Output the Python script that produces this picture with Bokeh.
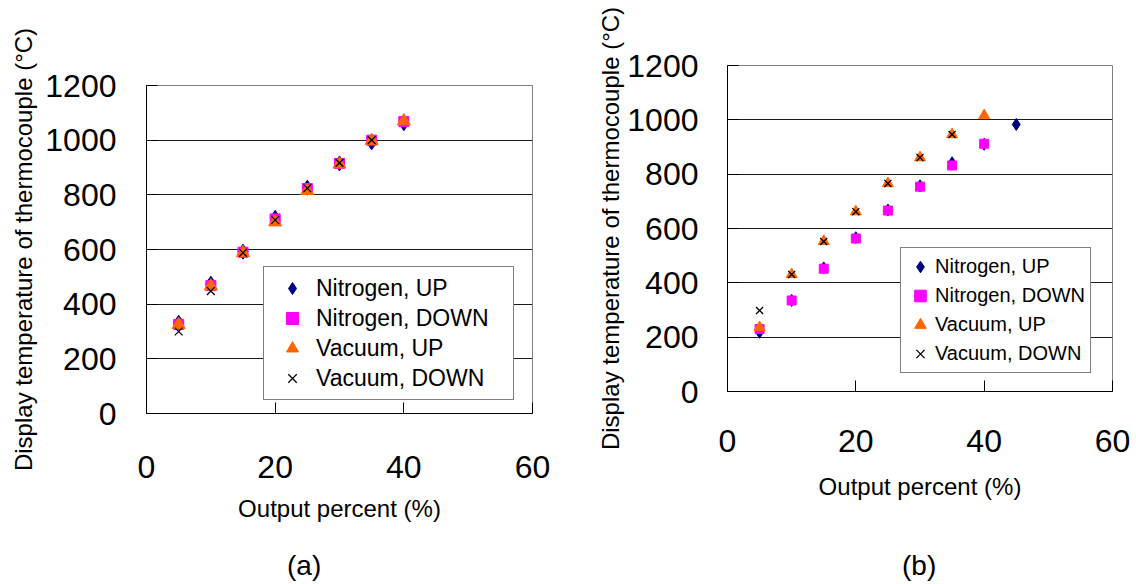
from bokeh.plotting import figure
from bokeh.models import Range1d, FixedTicker, Legend, LegendItem, Div, Spacer
from bokeh.layouts import row, column
from bokeh.embed import file_html
from bokeh.resources import INLINE

FONT = "Liberation Sans"

x_ticks = [0, 20, 40, 60]
y_ticks = [0, 200, 400, 600, 800, 1000, 1200]
grid_ticks = [200, 400, 600, 800, 1000]
series_names = ["Nitrogen, UP", "Nitrogen, DOWN", "Vacuum, UP", "Vacuum, DOWN"]
y_title = "Display temperature of thermocouple (°C)"
x_title = "Output percent (%)"
captions = ["(a)", "(b)"]

# ---- panel (a) ----
a_x_n_up = [5, 10, 15, 20, 25, 30, 35, 40]
a_n_up = [332, 475, 592, 716, 826, 915, 992, 1062]
a_x_n_down = [5, 10, 15, 20, 25, 30, 35, 40]
a_n_down = [326, 468, 590, 712, 823, 915, 1000, 1068]
a_x_v_up = [5, 10, 15, 20, 25, 30, 35, 40]
a_v_up = [325, 466, 588, 700, 815, 912, 998, 1070]
a_x_v_down = [5, 10, 15, 20, 25, 30, 35]
a_v_down = [300, 448, 588, 708, 824, 917, 1000]

# ---- panel (b) ----
b_x_n_up = [5, 10, 15, 20, 25, 30, 35, 40, 45]
b_n_up = [218, 335, 455, 566, 668, 757, 842, 910, 983]
b_x_n_down = [5, 10, 15, 20, 25, 30, 35, 40]
b_n_down = [230, 335, 452, 563, 666, 754, 832, 912]
b_x_v_up = [5, 10, 15, 20, 25, 30, 35, 40]
b_v_up = [236, 431, 553, 662, 766, 861, 946, 1016]
b_x_v_down = [5, 10, 15, 20, 25, 30, 35]
b_v_down = [298, 431, 552, 662, 766, 861, 946]


def make_panel(data, width, height, borders, sizes, tick_std, title_std, legend_cfg):
    p = figure(width=width, height=height, output_backend="svg", toolbar_location=None,
               x_range=Range1d(0, 60), y_range=Range1d(0, 1200),
               min_border_left=borders[0], min_border_right=borders[1],
               min_border_top=borders[2], min_border_bottom=borders[3])
    try:
        p.frame_align = False
    except Exception:
        pass
    p.background_fill_color = "white"
    p.border_fill_color = "white"
    p.outline_line_color = "#808080"
    p.outline_line_width = 1

    p.xgrid.visible = False
    p.ygrid.ticker = FixedTicker(ticks=grid_ticks)
    p.ygrid.grid_line_color = "#1a1a1a"
    p.ygrid.grid_line_width = 1

    p.xaxis.ticker = FixedTicker(ticks=x_ticks)
    p.yaxis.ticker = FixedTicker(ticks=y_ticks)
    for ax in (p.xaxis, p.yaxis):
        ax.axis_line_color = "black"
        ax.axis_line_width = 1
        ax.major_tick_line_color = "black"
        ax.major_tick_in = 11
        ax.major_tick_out = 0
        ax.minor_tick_line_color = None
        ax.major_label_text_font = FONT
        ax.major_label_text_font_size = "32px"
        ax.major_label_text_color = "black"
        ax.axis_label_text_font = FONT
        ax.axis_label_text_font_size = "24px"
        ax.axis_label_text_font_style = "normal"
        ax.axis_label_text_color = "black"
    p.xaxis.major_label_standoff = tick_std[0]
    p.yaxis.major_label_standoff = tick_std[1]
    p.xaxis.axis_label = x_title
    p.yaxis.axis_label = y_title
    p.xaxis.axis_label_standoff = title_std[0]
    p.yaxis.axis_label_standoff = title_std[1]

    (xn_up, n_up, xn_dn, n_dn, xv_up, v_up, xv_dn, v_dn) = data
    r1 = p.scatter(xn_up, n_up, marker="diamond", size=sizes[0],
                   fill_color="#000080", line_color="#000080")
    r2 = p.scatter(xn_dn, n_dn, marker="square", size=sizes[1], fill_color="#FF00FF",
                   line_color="#FF00FF")
    r3 = p.scatter(xv_up, v_up, marker="triangle", size=sizes[2], fill_color="#FF6600",
                   line_color="#FF6600")
    r4 = p.scatter(xv_dn, v_dn, marker="x", size=sizes[3], line_color="black", line_width=1.3)

    items = [LegendItem(label=n, renderers=[r]) for n, r in zip(series_names, [r1, r2, r3, r4])]
    legend = Legend(items=items, location=legend_cfg["loc"],
                    label_text_font=FONT, label_text_font_size=legend_cfg["font"],
                    label_text_color="black",
                    glyph_width=legend_cfg["gw"], glyph_height=legend_cfg["rh"],
                    label_height=legend_cfg["rh"], label_width=legend_cfg["lw"],
                    label_standoff=legend_cfg["std"], padding=legend_cfg["pad"],
                    spacing=0, margin=0,
                    border_line_color="black", border_line_width=1,
                    background_fill_color="white", background_fill_alpha=1.0)
    p.add_layout(legend, "center")
    return p


p1 = make_panel(
    (a_x_n_up, a_n_up, a_x_n_down, a_n_down, a_x_v_up, a_v_up, a_x_v_down, a_v_down),
    588, 550, (146, 56, 85, 137), (15, 10, 13, 11), (42, 30), (14, 5),
    dict(loc=(117, 13), font="23px", gw=44, rh=30, lw=191, std=2, pad=6),
)

p2 = make_panel(
    (b_x_n_up, b_n_up, b_x_n_down, b_n_down, b_x_v_up, b_v_up, b_x_v_down, b_v_down),
    546, 550, (139, 22, 65, 159), (12, 9, 11, 10), (38, 29), (18, 0),
    dict(loc=(173, 18), font="20px", gw=30, rh=29, lw=151, std=0, pad=4),
)

cap_style = {"font-family": FONT, "font-size": "28px", "line-height": "32px",
             "color": "black", "white-space": "nowrap"}
cap_a = Div(text=captions[0], width=615, height=32, margin=0, styles=cap_style)
cap_b = Div(text=captions[1], width=230, height=32, margin=0, styles=cap_style)
caption_row = row(Spacer(width=287, height=32, margin=0), cap_a, cap_b)

layout = column(row(p1, p2), caption_row)
open("out.html", "w").write(file_html(layout, INLINE))
